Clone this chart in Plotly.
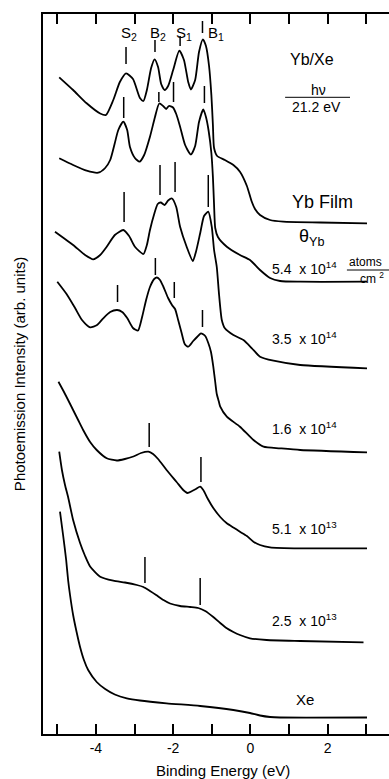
import plotly.graph_objects as go

# ---------------- data ----------------
# binding energy (eV) and photoemission intensity (arb. units, offset curves)
yb_film_E = [-4.95, -4.59, -4.24, -3.89, -3.74, -3.55, -3.38, -3.22, -3.04, -2.86,
             -2.77, -2.68, -2.57, -2.48, -2.39, -2.31, -2.22, -2.13, -2.00, -1.84,
             -1.72, -1.61, -1.54, -1.43, -1.33, -1.23, -1.15, -1.07, -1.01, -0.97,
             -0.94, -0.86, -0.66, -0.44, -0.27, -0.09, 0.03, 0.12, 0.25, 0.51,
             0.85, 1.81, 3.02]
yb_film_I = [656.7, 644, 630.7, 620.5, 619, 634, 652, 660.7, 655, 636,
             633, 644, 666, 674.7, 667, 650, 644, 648, 664, 683.3,
             674, 652, 644.5, 654, 682, 694.7, 688, 668, 639, 609,
             586, 578, 574, 569, 562.3, 548, 533, 525, 519, 514,
             512.3, 511.5, 510.7]

cov_54e14_E = [-4.95, -4.59, -4.24, -3.94, -3.76, -3.63, -3.51, -3.42, -3.29, -3.19,
               -3.12, -2.99, -2.87, -2.75, -2.60, -2.47, -2.36, -2.26, -2.18, -2.11,
               -2.01, -1.92, -1.82, -1.69, -1.54, -1.43, -1.33, -1.22, -1.15, -1.08,
               -1.01, -0.97, -0.94, -0.91, -0.84, -0.61, -0.27, -0.01, 0.25, 0.51,
               0.77, 1.29, 3.02]
cov_54e14_I = [575.7, 569, 563.3, 561.3, 566, 574, 591, 604, 612.3, 604,
               587.3, 576, 572.3, 579, 597.3, 617, 630.5, 628, 625, 628,
               626.7, 620, 607.3, 589, 579.5, 588, 612, 624.5, 617, 603,
               581, 557, 529, 506, 497, 487.3, 479, 474, 464, 456,
               453, 452.3, 452.3]

cov_35e14_E = [-5.06, -4.59, -4.28, -4.07, -3.89, -3.72, -3.51, -3.29, -3.14, -2.99,
               -2.77, -2.68, -2.60, -2.49, -2.40, -2.32, -2.22, -2.13, -2.03, -1.92,
               -1.82, -1.65, -1.49, -1.41, -1.30, -1.20, -1.09, -1.00, -0.94, -0.87,
               -0.81, -0.74, -0.66, -0.44, -0.18, 0.04, 0.25, 0.60, 1.29, 3.02]
cov_35e14_I = [502.3, 489, 479, 474.7, 479, 487.3, 499, 504, 498, 487.3,
               480, 489, 504, 520, 530, 531.5, 529, 533.5, 535.5, 527,
               507.3, 487.3, 473, 482, 500.7, 518, 522.3, 507.3, 484, 467,
               439, 414, 405.7, 399, 394, 385.7, 377.3, 373.3, 369, 365.7]

cov_16e14_E = [-5.00, -4.76, -4.54, -4.36, -4.15, -3.97, -3.81, -3.63, -3.45, -3.32,
               -3.19, -3.04, -2.91, -2.81, -2.70, -2.60, -2.49, -2.42, -2.34, -2.25,
               -2.13, -2.03, -1.95, -1.87, -1.78, -1.70, -1.61, -1.48, -1.38, -1.28,
               -1.17, -1.09, -1.02, -0.96, -0.91, -0.87, -0.82, -0.78, -0.61, -0.27,
               0.08, 0.34, 0.77, 1.29, 3.02]
cov_16e14_I = [452.3, 440, 426, 414, 406.7, 409, 415.7, 422, 424, 422,
               416, 406, 403.5, 416, 434, 447, 455, 456.5, 454, 447,
               436, 429, 425, 414, 401, 390, 387.3, 393, 397, 400.7,
               398, 391, 382, 367.3, 352, 340, 333, 327.3, 317.3, 307.3,
               294, 287.3, 285.7, 284, 281.7]

cov_51e13_E = [-4.97, -4.84, -4.72, -4.59, -4.46, -4.33, -4.15, -3.98, -3.72, -3.46,
               -3.25, -3.03, -2.83, -2.64, -2.52, -2.39, -2.17, -1.91, -1.74, -1.63,
               -1.51, -1.41, -1.30, -1.22, -1.10, -0.96, -0.78, -0.61, -0.44, -0.27,
               -0.09, 0.08, 0.25, 0.51, 1.29, 3.02]
cov_51e13_I = [352.3, 343, 334, 324, 314, 304, 292, 284, 275.7, 273.5,
               275, 277.5, 281, 282.3, 280, 275, 264, 252, 244, 241,
               243, 245, 247.3, 244, 235, 226, 217, 210.7, 206.5, 202.3,
               198, 192.3, 189, 186.7, 185.7, 185.7]

cov_25e13_E = [-4.95, -4.88, -4.80, -4.72, -4.59, -4.41, -4.28, -4.15, -3.89, -3.55,
               -3.25, -2.94, -2.77, -2.60, -2.44, -2.25, -2.08, -1.82, -1.56, -1.35,
               -1.17, -0.96, -0.78, -0.61, -0.44, -0.27, -0.01, 0.42, 1.29, 2.93]
cov_25e13_I = [282.3, 264, 249, 237, 214, 191, 178, 167.5, 157.3, 153.3,
               151.5, 149, 147, 143, 139, 134, 130.5, 128, 127, 126,
               123, 117, 111, 105.7, 102, 99, 95.7, 94, 93, 91.7]

xe_E = [-4.93, -4.85, -4.77, -4.72, -4.67, -4.59, -4.50, -4.41, -4.31, -4.20,
        -3.98, -3.76, -3.51, -3.20, -2.86, -2.17, -1.30, -0.44, -0.01, 0.25,
        0.51, 0.77, 3.02]
xe_I = [222.3, 199, 174, 154, 139, 119, 102, 87, 74, 64,
        52, 45, 39.5, 35.7, 33.5, 30.7, 28, 24, 21, 18.5,
        17, 16.5, 16.5]

# peak marker ticks: energy, lower and upper intensity of each short bar
yb_film_mark_E = [-3.22, -2.47, -1.82, -1.24]
yb_film_mark_lo = [670, 682, 688, 701]
yb_film_mark_hi = [687, 694, 698, 713]
cov_54e14_mark_E = [-3.28, -2.37, -1.99, -1.19]
cov_54e14_mark_lo = [616, 632, 632, 631]
cov_54e14_mark_hi = [637, 642, 652, 648]
cov_35e14_mark_E = [-3.27, -2.34, -1.95, -1.09]
cov_35e14_mark_lo = [512, 539, 542, 527]
cov_35e14_mark_hi = [542, 569, 572, 559]
cov_16e14_mark_E = [-3.44, -2.46, -1.97, -1.24]
cov_16e14_mark_lo = [432, 459, 436, 407]
cov_16e14_mark_hi = [449, 476, 452, 424]
cov_51e13_mark_E = [-2.62, -1.28]
cov_51e13_mark_lo = [287, 252]
cov_51e13_mark_hi = [311, 277]
cov_25e13_mark_E = [-2.73, -1.30]
cov_25e13_mark_lo = [151, 129]
cov_25e13_mark_hi = [177, 156]

peak_names = ["S<sub>2</sub>", "B<sub>2</sub>", "S<sub>1</sub>", "B<sub>1</sub>"]
peak_name_E = [-3.15, -2.38, -1.72, -0.89]

coverage_labels = ["5.4\u00a0 x 10<sup>14</sup>", "3.5\u00a0 x 10<sup>14</sup>",
                   "1.6\u00a0 x 10<sup>14</sup>", "5.1\u00a0 x 10<sup>13</sup>",
                   "2.5\u00a0 x 10<sup>13</sup>"]
coverage_label_I = [465.7, 395.7, 305.7, 205.7, 114]

x_tick_vals = [-5, -4, -3, -2, -1, 0, 1, 2, 3]
x_tick_text = ["", "-4", "", "-2", "", "0", "", "2", ""]

# ---------------- figure ----------------
FONT = "Liberation Sans, Arial, Helvetica, sans-serif"
fig = go.Figure()

curves = [(yb_film_E, yb_film_I), (cov_54e14_E, cov_54e14_I), (cov_35e14_E, cov_35e14_I),
          (cov_16e14_E, cov_16e14_I), (cov_51e13_E, cov_51e13_I), (cov_25e13_E, cov_25e13_I),
          (xe_E, xe_I)]
for E, I in curves:
    fig.add_trace(go.Scatter(x=E, y=I, mode="lines",
                             line=dict(color="black", width=1.8, shape="spline", smoothing=0.6),
                             hoverinfo="skip", showlegend=False))

mark_sets = [(yb_film_mark_E, yb_film_mark_lo, yb_film_mark_hi),
             (cov_54e14_mark_E, cov_54e14_mark_lo, cov_54e14_mark_hi),
             (cov_35e14_mark_E, cov_35e14_mark_lo, cov_35e14_mark_hi),
             (cov_16e14_mark_E, cov_16e14_mark_lo, cov_16e14_mark_hi),
             (cov_51e13_mark_E, cov_51e13_mark_lo, cov_51e13_mark_hi),
             (cov_25e13_mark_E, cov_25e13_mark_lo, cov_25e13_mark_hi)]
mx, my = [], []
for E, lo, hi in mark_sets:
    for e, a, b in zip(E, lo, hi):
        mx += [e, e, None]
        my += [a, b, None]
fig.add_trace(go.Scatter(x=mx, y=my, mode="lines", line=dict(color="black", width=1.5),
                         hoverinfo="skip", showlegend=False))

ann = []
for t, e in zip(peak_names, peak_name_E):
    ann.append(dict(x=e, y=701, text=t, showarrow=False, xanchor="center", yanchor="middle",
                    font=dict(size=15, family=FONT, color="black")))
for t, i in zip(coverage_labels, coverage_label_I):
    ann.append(dict(x=0.51, y=i, text=t, showarrow=False, xanchor="left", yanchor="middle",
                    font=dict(size=14, family=FONT, color="black")))

def txt(x, y, t, size, xanchor="center"):
    ann.append(dict(x=x, y=y, text=t, showarrow=False, xanchor=xanchor, yanchor="middle",
                    font=dict(size=size, family=FONT, color="black")))

txt(1.59, 675, "Yb/Xe", 16)
txt(1.76, 644, "h\u03bd", 14)
txt(1.72, 626.7, "21.2 eV", 14)
txt(1.88, 532.3, "Yb Film", 18)
txt(1.57, 497, "\u03b8<sub>Yb</sub>", 18)
txt(2.50, 472, "atoms", 12, "left")
txt(2.79, 456.5, "cm <sup>2</sup>", 12, "left")
txt(1.42, 34.7, "Xe", 15)

ann.append(dict(xref="paper", yref="paper", x=-0.069, y=0.5, textangle=-90,
                text="Photoemission Intensity (arb. units)", showarrow=False,
                xanchor="center", yanchor="middle", font=dict(size=15, family=FONT, color="black")))
ann.append(dict(xref="x", yref="paper", x=-0.72, y=-0.05,
                text="Binding Energy (eV)", showarrow=False,
                xanchor="center", yanchor="middle", font=dict(size=15, family=FONT, color="black")))

shapes = [
    dict(type="line", xref="x", yref="y", x0=0.90, x1=2.58, y0=636.7, y1=636.7,
         line=dict(color="black", width=1)),
    dict(type="line", xref="x", yref="y", x0=2.50, x1=3.59, y0=464, y1=464,
         line=dict(color="black", width=1)),
]

fig.update_layout(
    width=389, height=779,
    margin=dict(l=43, r=0, t=14, b=45),
    paper_bgcolor="white", plot_bgcolor="white",
    annotations=ann, shapes=shapes,
    xaxis=dict(range=[-5.37, 3.59], tickvals=x_tick_vals, ticktext=x_tick_text,
               ticks="inside", ticklen=10, tickwidth=1.5, tickcolor="black",
               showline=True, linecolor="black", linewidth=2, mirror="ticks",
               showgrid=False, zeroline=False,
               tickfont=dict(size=14, family=FONT, color="black")),
    yaxis=dict(range=[0, 720], showline=True, linecolor="black", linewidth=2,
               showticklabels=False, ticks="", showgrid=False, zeroline=False),
)

fig.write_html(
    "out.html",
    config={"displayModeBar": False},
    post_script="document.body.style.margin='0';document.body.style.overflow='hidden';",
)
